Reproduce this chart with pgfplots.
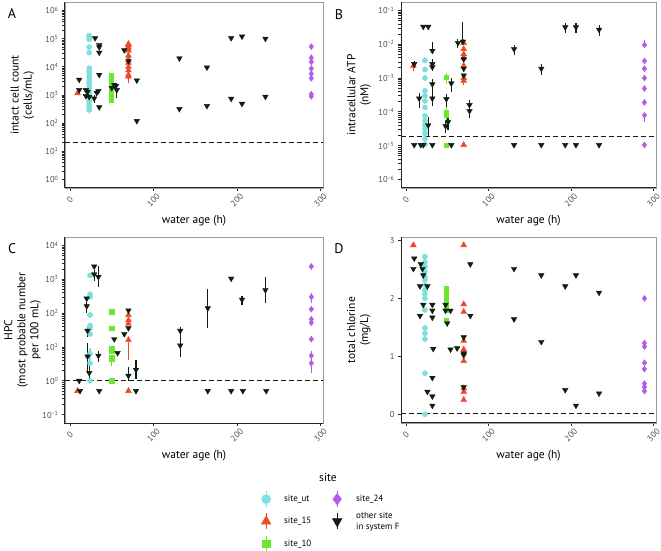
\documentclass[border=0pt]{standalone}
\usepackage{pgfplots}
\pgfplotsset{compat=1.18}
\usepackage{fontspec}
\setmainfont{PT Sans}
\definecolor{cut}{HTML}{7FDEDE}
\definecolor{c15}{HTML}{EE4A2A}
\definecolor{c10}{HTML}{6BE82E}
\definecolor{c24}{HTML}{B25CE8}
\definecolor{cot}{HTML}{0F1E10}
\definecolor{tickgray}{HTML}{4D4D4D}
\definecolor{framegray}{HTML}{9A9A9A}
\pgfplotsset{
  panel/.style={
    scale only axis, width=258pt, height=186pt,
    xmin=-6, xmax=303,
    xtick={0,100,200,300}, xticklabels={0,100,200,300},
    xticklabel style={yshift=-9pt, rotate=45, anchor=center, font=\fontsize{8.5}{9}\selectfont, text=tickgray},
    yticklabel style={font=\fontsize{8.5}{9}\selectfont, text=tickgray},
    axis line style={draw=framegray, line width=0.8pt},
    tick style={draw=black!85, line width=0.8pt},
    tick align=outside, xtick pos=bottom, ytick pos=left, major tick length=3pt,
    minor tick num=0,
    xlabel={water age (h)},
    xlabel style={at={(axis description cs:0.5,-0.178)}, anchor=center, font=\fontsize{11.5}{13}\selectfont},
    ylabel style={at={(axis description cs:-0.165,0.5)}, anchor=center, align=center, font=\fontsize{11.5}{13}\selectfont},
    after end axis/.code={\draw[black!85, line width=1pt] (rel axis cs:0,1) -- (rel axis cs:0,0) -- (rel axis cs:1,0);},
  },
  eb/.style={error bars/y dir=both, error bars/y explicit, error bars/error mark=none, error bars/error bar style={line width=1.1pt, color=#1}},
  ut/.style={only marks, mark=*, mark size=2.6pt, color=cut, mark options={fill=cut, draw=cut}, eb=cut, forget plot},
  s15/.style={only marks, mark=triangle*, mark size=3.4pt, color=c15, mark options={fill=c15, draw=c15}, eb=c15, forget plot},
  s10/.style={only marks, mark=square*, mark size=2.2pt, color=c10, mark options={fill=c10, draw=c10}, eb=c10, forget plot},
  s24/.style={only marks, mark=diamond*, mark size=3pt, color=c24, mark options={fill=c24, draw=c24}, eb=c24, forget plot},
  sot/.style={only marks, mark=triangle*, mark size=3.2pt, color=cot, mark options={fill=cot, draw=cot, rotate=180}, eb=cot, forget plot},
  dline/.style={cot, line width=0.9pt, dash pattern=on 5pt off 3pt, forget plot, mark=none},
}
\begin{document}
\begin{tikzpicture}
\useasboundingbox (0,0) rectangle (661pt,551pt);
% ---------------- A ----------------
\begin{axis}[panel, at={(65pt,363pt)}, anchor=south west,
  ymode=log, ymin=0.5, ymax=2e6,
  ytick={1,10,100,1000,10000,100000,1000000},
  yticklabels={10\textsuperscript{0},10\textsuperscript{1},10\textsuperscript{2},10\textsuperscript{3},10\textsuperscript{4},10\textsuperscript{5},10\textsuperscript{6}},
  ylabel={intact cell count\\(cells/mL)}]
\addplot[dline] coordinates {(-6,21)(303,21)};
\addplot[ut] coordinates {(23,130000)(23,115000)(23,95000)(23,50000)(23,32000)(23,9000)(23,7000)(23,5500)(23,4200)(23,3300)(23,2600)(23,2100)(23,1700)(23,1400)(23,1100)(23,900)(23,750)(23,600)(23,480)(23,380)(23,300) -= (0,90)};
\addplot[s15] coordinates {(9,1150)(70,65000) += (0,10000) (70,58000)(70,48000)(70,38000)(70,25000)(70,18000)(70,14000)(70,10000)(70,7500)(70,5200)(70,4500) -= (0,1800)};
\addplot[s10] coordinates {(49,5000)(49,4000)(49,3100)(49,2500)(49,2000)(49,1600)(49,1300)(49,1050)(49,850)(49,650)};
\addplot[s24] coordinates {(289,52000)(289,21000)(289,15000)(289,8700)(289,5700)(289,3900)(289,1070)(289,900)};
\addplot[sot] coordinates {(11,3500)(11,1500)(19,1500)(19,920)(21,1300)(23,860)(29,760) +- (0,250) (30,105000)(32,1200)(34,1400)(35,60000)(35,50000)(35,32000)(35,5200)(35,370)
 (50,1800) +- (0,400) (53,2300)(55,2100)(56,1500) -= (0,700) (65,39000)(70,16000)(80,3300)(80,120)
 (131,20000)(131,320)(164,9500)(164,410)(193,105000)(193,740)(206,120000)(206,490)(234,100000)(234,870)};
\end{axis}
% ---------------- B ----------------
\begin{axis}[panel, width=255pt, at={(401pt,363pt)}, anchor=south west,
  ymode=log, ymin=5.6e-7, ymax=1.78e-1,
  ytick={1e-6,1e-5,1e-4,1e-3,1e-2,1e-1},
  yticklabels={10\textsuperscript{−6},10\textsuperscript{−5},10\textsuperscript{−4},10\textsuperscript{−3},10\textsuperscript{−2},10\textsuperscript{−1}},
  ylabel={intracellular ATP\\(nM)}]
\addplot[dline] coordinates {(-6,1.9e-5)(303,1.9e-5)};
\addplot[ut] coordinates {(23,3.3e-3) += (0,1e-3) (23,1.8e-3)(23,1e-3)(23,4.2e-4)(23,3e-4)(23,2.1e-4)(23,1.35e-4)(23,7.6e-5)(23,5.4e-5)(23,4e-5)(23,3.1e-5)(23,2.3e-5)(23,1.6e-5)(23,1.1e-5)};
\addplot[s15] coordinates {(9,2.3e-3) +- (0,0.7e-3) (70,1.1e-2)(70,7.2e-3)(70,5.1e-3)(70,4e-3)(70,2.3e-3)(70,1e-3)(70,8.3e-4) -= (0,2e-4) (70,1.05e-5)};
\addplot[s10] coordinates {(49,1.05e-3) +- (0,0.4e-3) (49,9.5e-5) += (0,1e-4) (49,8e-5) -= (0,3e-5) (49,1.05e-5)};
\addplot[s24] coordinates {(289,9.5e-3) += (0,4e-3) (289,3.2e-3)(289,1.9e-3)(289,1e-3)(289,4.9e-4)(289,1.9e-4)(289,7.9e-5) -= (0,3e-5) (289,1.05e-5)};
\addplot[sot] coordinates {(10,2.6e-3) +- (0,0.6e-3) (21,3.3e-2)(27,3.3e-2)(16,2.5e-4) +- (0,1.2e-4) (27,4e-5) += (0,3e-5) -= (0,2e-5)
 (32,6.4e-3) += (0,5e-3) (32,2.6e-3) +- (0,1e-3) (32,2.1e-3)(32,6.6e-4) +- (0,3e-4) (32,2.5e-4) +- (0,1e-4)
 (49,2.4e-4) +- (0,1e-4) (51,5e-5) +- (0,2e-5) (48,3.8e-5) +- (0,1.5e-5) (55,7e-4) +- (0,3e-4)
 (63,1.1e-2) +- (0,3e-3) (69,1.2e-2) += (0,0.035) (70,3.6e-3)(70,1.9e-3)(70,1.2e-3)
 (77,1.6e-4) +- (0,0.6e-4) (77,1.07e-4) +- (0,0.4e-4)
 (131,7.2e-3) +- (0,2.5e-3) (164,1.9e-3) +- (0,0.7e-3) (193,3.2e-2) +- (0,1e-2) (206,3.2e-2) +- (0,1e-2) (234,2.7e-2) +- (0,0.9e-2)
 (10,1.05e-5)(18,1.05e-5)(21,1.05e-5)(32,1.05e-5)(55,1.05e-5)(131,1.05e-5)(164,1.05e-5)(193,1.05e-5)(206,1.05e-5)(234,1.05e-5)};
\end{axis}
% ---------------- C ----------------
\begin{axis}[panel, at={(65pt,128pt)}, anchor=south west,
  ymode=log, ymin=0.0562, ymax=17800,
  ytick={0.1,1,10,100,1000,10000},
  yticklabels={10\textsuperscript{−1},10\textsuperscript{0},10\textsuperscript{1},10\textsuperscript{2},10\textsuperscript{3},10\textsuperscript{4}},
  ylabel={HPC\\(most probable number\\per 100 mL)},
  legend columns=2, legend cell align=left,
  legend style={at={(axis description cs:0.748,-0.352)}, anchor=north west, draw=none, fill=none, inner sep=0pt,
    font=\fontsize{9}{11.5}\selectfont, row sep=0pt, cells={align=left, inner sep=0pt},
    /tikz/column 2/.style={column sep=0pt, nodes={text width=43pt}},
    /tikz/column 1/.style={column sep=8pt},
    /tikz/column 3/.style={column sep=9pt}},
  legend image code/.code={\path[draw=none, fill=none] (-8pt,-10.5pt) rectangle (8pt,10.5pt); \draw[#1, mark=none, line width=1.3pt] (0pt,-8pt) -- (0pt,8pt); \draw[#1] plot[only marks] coordinates {(0pt,0pt)};}]
\addlegendimage{only marks, mark=*, mark size=4.6pt, color=cut, mark options={fill=cut, draw=cut}}
\addlegendentry{site\_ut}
\addlegendimage{only marks, mark=diamond*, mark size=5.8pt, color=c24, mark options={fill=c24, draw=c24}}
\addlegendentry{site\_24}
\addlegendimage{only marks, mark=triangle*, mark size=5.6pt, color=c15, mark options={fill=c15, draw=c15}}
\addlegendentry{site\_15}
\addlegendimage{only marks, mark=triangle*, mark size=5.6pt, color=cot, mark options={fill=cot, draw=cot, rotate=180}}
\addlegendentry{other site\\in system F}
\addlegendimage{only marks, mark=square*, mark size=3.8pt, color=c10, mark options={fill=c10, draw=c10}}
\addlegendentry{site\_10}
\addplot[dline] coordinates {(-6,1)(303,1)};
\addplot[ut] coordinates {(24,1300)(24,360)(24,300)(24,88)(24,43)(24,36)(24,24)(24,6.3) +- (0,3)(24,3.3)(24,1.0)};
\addplot[s15] coordinates {(9,0.5)(70,88)(70,62)(70,49)(70,16) -= (0,12)(70,0.5)};
\addplot[s10] coordinates {(50,110)(50,36)(50,8.8)(50,7.5)(50,5)(50,4.3) -= (0,1.5)(50,1.0)};
\addplot[s24] coordinates {(289,2400)(289,300) +- (0,100)(289,130)(289,66)(289,52)(289,17)(289,5.5) +- (0,2)(289,3.3) -= (0,1.6)};
\addplot[sot] coordinates {(11,1.0)(12,0.5)(35,0.5)(79,0.5)(165,0.5)(193,0.5)(207,0.5)(235,0.5)
 (20,270)(20,160) +- (0,60)(21,30) +- (0,10)(21,5.2) += (0,8) -= (0,3.5)(23,1.7) += (0,1.5) -= (0,0.7)
 (29,2400)(29,1400) +- (0,500)(34,1180) += (0,1300) -= (0,600)(34,5.5) +- (0,2)
 (53,17)(57,6.6)(65,24)(70,120)(70,36)(70,1.4) += (0,1.2) -= (0,0.4)(79,2.1) += (0,2) -= (0,1)
 (132,30) += (0,8) -= (0,10)(132,11) += (0,8) -= (0,6)(165,140) += (0,360) -= (0,103)(193,1050)(206,250) +- (0,80)(234,480) += (0,720) -= (0,280)};
\end{axis}
% ---------------- D ----------------
\begin{axis}[panel, width=255pt, at={(401pt,128pt)}, anchor=south west,
  ymin=-0.15, ymax=3.06,
  ytick={0,1,2,3}, yticklabels={0,1,2,3},
  ylabel={total chlorine\\(mg/L)}]
\addplot[dline] coordinates {(-6,0.02)(303,0.02)};
\addplot[ut] coordinates {(23,2.72)(23,2.63)(23,2.55)(23,2.46)(23,2.37)(23,2.32)(23,2.23)(23,2.14)(23,2.07)(23,2.0)(23,1.8)(23,1.49)(23,1.40)(23,1.30)(23,0.71)(23,0.0)};
\addplot[s15] coordinates {(9,2.92)(70,2.92)(70,1.90)(70,1.77)(70,1.27)(70,1.12)(70,1.08)(70,0.92)(70,0.45)(70,0.39)(70,0.25)};
\addplot[s10] coordinates {(49,2.18)(49,2.12)(49,2.05)(49,2.0)(49,1.95)(49,1.9)(49,1.85)(49,1.8)(49,1.62)};
\addplot[s24] coordinates {(289,2.0)(289,1.23)(289,1.17)(289,0.89)(289,0.78)(289,0.53)(289,0.47)(289,0.40)};
\addplot[sot] coordinates {(10,2.69)(9,2.51)(18,2.59)(17,2.21)(17,1.70)(20,2.51)(21,2.40)(21,1.89)(26,2.21)(26,0.39)
 (32,1.89)(32,1.79)(32,1.67)(33,1.13)(32,0.63)(32,0.31)(32,0.15)(48,1.89)(48,1.79)(50,1.57)(54,1.79)(54,1.12)(62,1.14)
 (70,1.33)(70,1.05)(70,1.02)(70,0.47)(78,2.59)(78,1.70)(131,2.51)(131,1.64)(164,2.40)(164,1.25)(193,2.21)(193,0.42)(206,2.40)(206,0.15)(234,2.10)(234,0.36)};
\end{axis}
% panel letters and legend title
\node[font=\fontsize{14}{15}\selectfont] at (12pt,537pt) {A};
\node[font=\fontsize{14}{15}\selectfont] at (339pt,536pt) {B};
\node[font=\fontsize{14}{15}\selectfont] at (12pt,302pt) {C};
\node[font=\fontsize{14}{15}\selectfont] at (339pt,302pt) {D};
\node[font=\fontsize{11.5}{13}\selectfont] at (328pt,74pt) {site};
\end{tikzpicture}
\end{document}
